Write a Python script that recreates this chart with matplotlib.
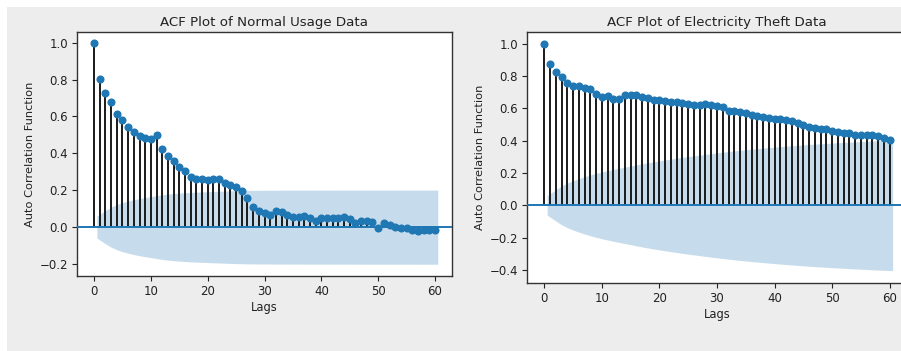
import numpy as np
import matplotlib
matplotlib.use("Agg")
import matplotlib.pyplot as plt
from matplotlib.patches import Rectangle

lags = np.arange(0, 61)

acf_normal = [1.0, 0.804, 0.725, 0.678, 0.616, 0.58, 0.542, 0.518, 0.495, 0.484,
              0.477, 0.50, 0.423, 0.387, 0.36, 0.327, 0.305, 0.273, 0.26, 0.26,
              0.255, 0.26, 0.26, 0.24, 0.23, 0.215, 0.195, 0.157, 0.11, 0.088,
              0.078, 0.065, 0.088, 0.081, 0.065, 0.056, 0.056, 0.063, 0.049, 0.033,
              0.049, 0.049, 0.049, 0.049, 0.056, 0.043, 0.025, 0.033, 0.033, 0.027,
              -0.004, 0.02, 0.014, 0.0, -0.007, -0.007, -0.014, -0.02, -0.013, -0.013,
              -0.018]

acf_theft = [1.0, 0.874, 0.825, 0.794, 0.759, 0.74, 0.74, 0.728, 0.717, 0.689,
             0.672, 0.674, 0.66, 0.66, 0.682, 0.685, 0.685, 0.67, 0.662, 0.652,
             0.65, 0.645, 0.641, 0.637, 0.633, 0.625, 0.621, 0.621, 0.627, 0.621,
             0.614, 0.606, 0.586, 0.584, 0.577, 0.569, 0.559, 0.555, 0.548, 0.54,
             0.536, 0.534, 0.528, 0.52, 0.511, 0.499, 0.487, 0.478, 0.474, 0.472,
             0.462, 0.452, 0.447, 0.445, 0.437, 0.435, 0.435, 0.435, 0.429, 0.414,
             0.406]

nobs_normal = 1090
nobs_theft = 1040

titles = ["ACF Plot of Normal Usage Data", "ACF Plot of Electricity Theft Data"]
xlabel = "Lags"
ylabel = "Auto Correlation Function"


def bartlett_interval(acf, nobs):
    acf = np.asarray(acf)
    var = np.ones_like(acf)
    var[0] = 0
    var[1] = 1.0 / nobs
    var[2:] = (1 + 2 * np.cumsum(acf[1:-1] ** 2)) / nobs
    return 1.96 * np.sqrt(var)


W, H = 901, 351
fig = plt.figure(figsize=(W / 100, H / 100), dpi=100, facecolor="white")
bg = Rectangle((7 / W, 0), 1, 1 - 7 / H, transform=fig.transFigure,
               facecolor="#ededed", edgecolor="none", zorder=-10)
fig.add_artist(bg)

ax1 = fig.add_axes([77 / W, 1 - 276 / H, (452 - 77) / W, (276 - 32) / H])
ax2 = fig.add_axes([527 / W, 1 - 283 / H, (907 - 527) / W, (283 - 32) / H])

for ax, acf, nobs, title in [(ax1, acf_normal, nobs_normal, titles[0]),
                             (ax2, acf_theft, nobs_theft, titles[1])]:
    acf = np.asarray(acf)
    ax.set_facecolor("white")
    interval = bartlett_interval(acf, nobs)
    lb = lags[1:].astype(float)
    lb[0] -= 0.5
    lb[-1] += 0.5
    ax.fill_between(lb, -interval[1:], interval[1:], color="C0", alpha=0.25, lw=0,
                    zorder=1)
    ax.vlines(lags, 0, acf, colors="#1a1a1a", lw=1.4, zorder=2)
    ax.axhline(0, color="C0", lw=1.4, zorder=3)
    ax.plot(lags, acf, marker="o", markersize=4.8, linestyle="None", color="C0",
            zorder=4)
    ax.set_title(title, fontsize=9.6, color="#222222", pad=4)
    ax.set_xlabel(xlabel, fontsize=8.3, color="#222222", labelpad=2)
    ax.set_ylabel(ylabel, fontsize=8.2, color="#222222", labelpad=3)
    ax.set_xticks(np.arange(0, 61, 10))
    ax.tick_params(labelsize=8.5, colors="#222222", length=3.5, width=0.8, pad=3)
    for s in ax.spines.values():
        s.set_color("#333333")
        s.set_linewidth(1.0)

ax1.set_xlim(-3, 63)
ax1.set_ylim(-0.265, 1.058)
ax1.set_yticks(np.arange(-0.2, 1.01, 0.2))
ax2.set_xlim(-3, 63)
ax2.set_ylim(-0.48, 1.072)
ax2.set_yticks(np.arange(-0.4, 1.01, 0.2))

fig.savefig("out.png", dpi=100, facecolor=fig.get_facecolor())
